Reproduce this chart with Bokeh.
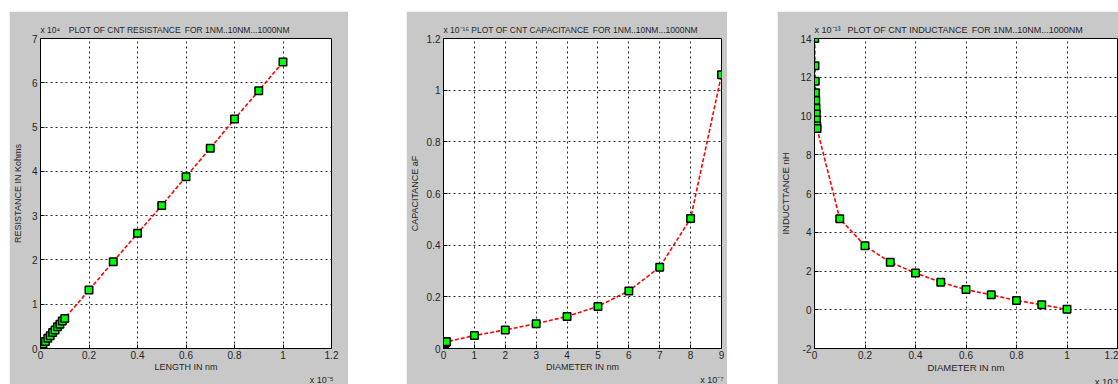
from bokeh.plotting import figure
from bokeh.models import FixedTicker, Spacer, Range1d, Title
from bokeh.layouts import row, column
from bokeh.embed import file_html
from bokeh.resources import INLINE

# ---------------- data ----------------
# Panel 1: CNT resistance (x in units of 1e-5, y in units of 1e4)
res_length = [0.01, 0.02, 0.03, 0.04, 0.05, 0.06, 0.07, 0.08, 0.09, 0.10,
              0.2, 0.3, 0.4, 0.5, 0.6, 0.7, 0.8, 0.9, 1.0]
res_kohms = [0.10, 0.16, 0.23, 0.29, 0.36, 0.42, 0.49, 0.55, 0.62, 0.68,
             1.32, 1.96, 2.60, 3.23, 3.88, 4.52, 5.18, 5.82, 6.47]

# Panel 2: CNT capacitance (x in units of 1e-7, y in units of 1e-15)
cap_diameter = [0.01, 0.02, 0.03, 0.04, 0.05, 0.06, 0.07, 0.08, 0.09, 0.10,
                1, 2, 3, 4, 5, 6, 7, 8, 9]
cap_af = [0.018, 0.019, 0.020, 0.021, 0.022, 0.022, 0.023, 0.024, 0.025, 0.026,
          0.050, 0.072, 0.096, 0.124, 0.163, 0.223, 0.315, 0.503, 1.060]

# Panel 3: CNT inductance (x in units of 1e-6, y in units of 1e-13)
ind_diameter = [0.001, 0.002, 0.003, 0.004, 0.005, 0.006, 0.007, 0.008, 0.009, 0.010,
                0.1, 0.2, 0.3, 0.4, 0.5, 0.6, 0.7, 0.8, 0.9, 1.0]
ind_nh = [14.0, 12.6, 11.8, 11.2, 10.8, 10.4, 10.1, 9.8, 9.5, 9.35,
          4.7, 3.3, 2.45, 1.9, 1.42, 1.04, 0.77, 0.48, 0.26, 0.02]

# ticks
p1_xticks = [0, 0.2, 0.4, 0.6, 0.8, 1.0, 1.2]
p1_xlabels = ["0", "0.2", "0.4", "0.6", "0.8", "1", "1.2"]
p1_yticks = [0, 1, 2, 3, 4, 5, 6, 7]
p1_ylabels = ["0", "1", "2", "3", "4", "5", "6", "7"]

p2_xticks = [0, 1, 2, 3, 4, 5, 6, 7, 8, 9]
p2_xlabels = ["0", "1", "2", "3", "4", "5", "6", "7", "8", "9"]
p2_yticks = [0, 0.2, 0.4, 0.6, 0.8, 1.0, 1.2]
p2_ylabels = ["0", "0.2", "0.4", "0.6", "0.8", "1", "1.2"]

p3_xticks = [0, 0.2, 0.4, 0.6, 0.8, 1.0, 1.2]
p3_xlabels = ["0", "0.2", "0.4", "0.6", "0.8", "1", "1.2"]
p3_yticks = [-2, 0, 2, 4, 6, 8, 10, 12, 14]
p3_ylabels = ["-2", "0", "2", "4", "6", "8", "10", "12", "14"]

titles = ["x 10\u2074\u2002\u2002PLOT OF CNT RESISTANCE\u2009 FOR 1NM..10NM...1000NM",
          "x 10\u207b\u00b9\u2075 PLOT OF CNT CAPACITANCE\u2009 FOR 1NM..10NM...1000NM",
          "x 10\u207b\u00b9\u00b3\u2002 PLOT OF CNT INDUCTANCE\u2009 FOR 1NM..10NM...1000NM"]
xlabels = ["LENGTH IN nm", "DIAMETER IN nm", "DIAMETER IN nm"]
ylabels = ["RESISTANCE IN Kohms", "CAPACITANCE aF", "INDUCTTANCE nH"]
xexp = ["x 10\u207b\u2075", "x 10\u207b\u2077", "x 10\u207b\u2076"]

# ---------------- style ----------------
GRAY = "#c8c8c8"
FONT = "Liberation Sans"
TXT = "#262626"
H = 373
TOP = 27
BOTTOM = 36


def make_panel(width, left, right, xr, yr, xt, xl, yt, yl, xs, ys,
               title, xlab, ylab, xe, ylab_standoff, fs=9.0, tfs=8.5, bottom=BOTTOM):
    p = figure(width=width, height=H, x_range=Range1d(*xr), y_range=Range1d(*yr),
               output_backend="svg", toolbar_location=None,
               min_border_left=left, min_border_right=right,
               min_border_top=TOP, min_border_bottom=bottom,
               background_fill_color="white", border_fill_color=GRAY,
               outline_line_color="black", outline_line_width=1)
    p.title.text = title
    p.title.align = "left"
    p.title.offset = 0
    p.title.standoff = 8
    p.title.text_font = FONT
    p.title.text_font_size = f"{tfs}px"
    p.title.text_font_style = "normal"
    p.title.text_color = TXT

    p.xaxis.ticker = FixedTicker(ticks=xt, minor_ticks=[])
    p.yaxis.ticker = FixedTicker(ticks=yt, minor_ticks=[])
    p.xaxis.major_label_overrides = {t: s for t, s in zip(xt, xl)}
    p.yaxis.major_label_overrides = {t: s for t, s in zip(yt, yl)}
    for ax in (p.xaxis, p.yaxis):
        ax.major_tick_in = 4
        ax.major_tick_out = 0
        ax.minor_tick_in = 0
        ax.minor_tick_out = 0
        ax.axis_line_color = "black"
        ax.major_tick_line_color = "black"
        ax.major_label_text_font = FONT
        ax.major_label_text_font_size = "10px"
        ax.major_label_text_color = TXT
        ax.axis_label_text_font = FONT
        ax.axis_label_text_font_size = f"{fs}px"
        ax.axis_label_text_font_style = "normal"
        ax.axis_label_text_color = TXT
    p.xaxis.axis_label = xlab
    p.yaxis.axis_label = ylab
    p.xaxis.major_label_standoff = 2
    p.yaxis.major_label_standoff = 3
    p.xaxis.axis_label_standoff = 0
    p.yaxis.axis_label_standoff = ylab_standoff

    p.add_layout(Title(text=xe, align="right", offset=-2, standoff=-4,
                       text_font=FONT, text_font_size=f"{fs}px",
                       text_font_style="normal", text_color=TXT), "below")

    p.grid.grid_line_color = "black"
    p.grid.grid_line_dash = "2 3"
    p.grid.grid_line_alpha = 0.85
    p.line(xs, ys, line_color="red", line_dash="4 2", line_width=1.6)
    p.scatter(xs, ys, marker="square", size=7.5, fill_color="#00ff00",
              line_color="black", line_width=1.5)
    return p


p1 = make_panel(339, 31, 17, (0, 1.2), (0, 7), p1_xticks, p1_xlabels,
                p1_yticks, p1_ylabels, res_length, res_kohms,
                titles[0], xlabels[0], ylabels[0], xexp[0], 6)
p2 = make_panel(321, 32, 6, (0, 9), (0, 1.2), p2_xticks, p2_xlabels,
                p2_yticks, p2_ylabels, cap_diameter, cap_af,
                titles[1], xlabels[1], ylabels[1], xexp[1], 4)
p3 = make_panel(341, 33, 1, (0, 1.2), (-2, 14), p3_xticks, p3_xlabels,
                p3_yticks, p3_ylabels, ind_diameter, ind_nh,
                titles[2], xlabels[2], ylabels[2], xexp[2], 6, fs=9.5, tfs=9.0,
                bottom=34)

layout = column(Spacer(height=11),
                row(Spacer(width=9), p1, Spacer(width=58), p2, Spacer(width=50), p3))

open("out.html", "w").write(file_html(layout, INLINE))
